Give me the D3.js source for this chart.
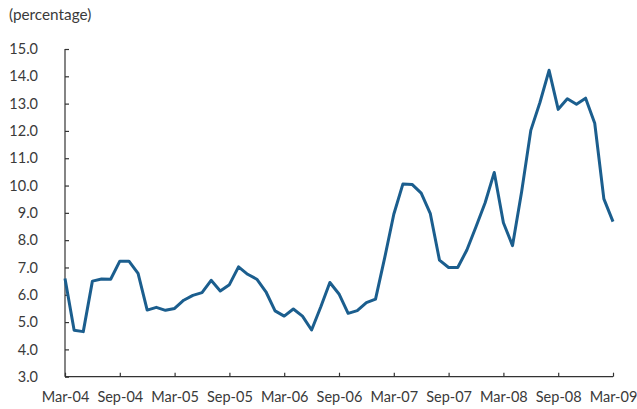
<!DOCTYPE html>
<html>
<head>
<meta charset="utf-8">
<script src="https://cdn.jsdelivr.net/npm/d3@7"></script>
<style>
    body { margin: 0; background: #fff; }
    text { font-family: Lato, 'Open Sans', sans-serif; fill: #3a3a3a; }
</style>
</head>
<body>
<script>
// monthly values, Mar-04 .. Mar-09
const values = [
    6.6, 4.7, 4.65, 6.5, 6.58, 6.57, 7.23, 7.23, 6.78, 5.44,
    5.54, 5.43, 5.5, 5.8, 5.98, 6.08, 6.53, 6.14, 6.37, 7.02, 6.75, 6.57,
    6.11, 5.41, 5.22, 5.48, 5.22, 4.71, 5.55, 6.45, 6.03, 5.32, 5.42, 5.71,
    5.84, 7.35, 8.95, 10.06, 10.04, 9.72, 8.97, 7.27, 7.0, 7.0, 7.64, 8.49,
    9.37, 10.48, 8.64, 7.8, 9.78, 12.02, 13.04, 14.22, 12.79, 13.18, 12.98, 13.2,
    12.28, 9.51, 8.68
];
const xTickLabels = ['Mar-04', 'Sep-04', 'Mar-05', 'Sep-05', 'Mar-06', 'Sep-06',
    'Mar-07', 'Sep-07', 'Mar-08', 'Sep-08', 'Mar-09'];
const yTicks = d3.range(3, 15.01, 1);

const width = 637, height = 409;
const plotLeft = 65, plotRight = 613, plotTop = 49, plotBottom = 376.7;

const svg = d3.select('body')
    .append('svg')
    .attr('width', width)
    .attr('height', height);

const x = d3.scaleLinear()
    .domain([0, values.length - 1])
    .range([plotLeft, plotRight]);

const y = d3.scaleLinear()
    .domain([3, 15])
    .range([plotBottom, plotTop]);

// y axis
const yAxis = svg.append('g')
    .attr('transform', 'translate(' + plotLeft + ',0)')
    .call(d3.axisRight(y)
        .tickValues(yTicks)
        .tickSize(4)
        .tickFormat(d3.format('.1f')));
yAxis.select('.domain').attr('d', 'M0,' + plotTop + 'V' + plotBottom);
yAxis.selectAll('text')
    .attr('x', -27)
    .attr('text-anchor', 'end')
    .style('font-size', '14.5px');

// x axis
const xAxis = svg.append('g')
    .attr('transform', 'translate(0,' + plotBottom + ')')
    .call(d3.axisTop(x)
        .tickValues(d3.range(0, values.length, 6))
        .tickSize(4)
        .tickFormat((d, i) => xTickLabels[i]));
xAxis.select('.domain').attr('d', 'M' + plotLeft + ',0H' + plotRight);
xAxis.selectAll('text')
    .attr('y', 25)
    .style('font-size', '14.5px');

svg.selectAll('.domain, .tick line')
    .attr('stroke', '#333')
    .attr('stroke-width', 1.2);

svg.append('text')
    .attr('x', 9)
    .attr('y', 20)
    .style('font-size', '15.3px')
    .text('(percentage)');

const line = d3.line()
    .x((d, i) => x(i))
    .y(d => y(d));

svg.append('path')
    .datum(values)
    .attr('d', line)
    .attr('fill', 'none')
    .attr('stroke', '#1b5e8e')
    .attr('stroke-width', 3)
    .attr('stroke-linejoin', 'round');
</script>
</body>
</html>
